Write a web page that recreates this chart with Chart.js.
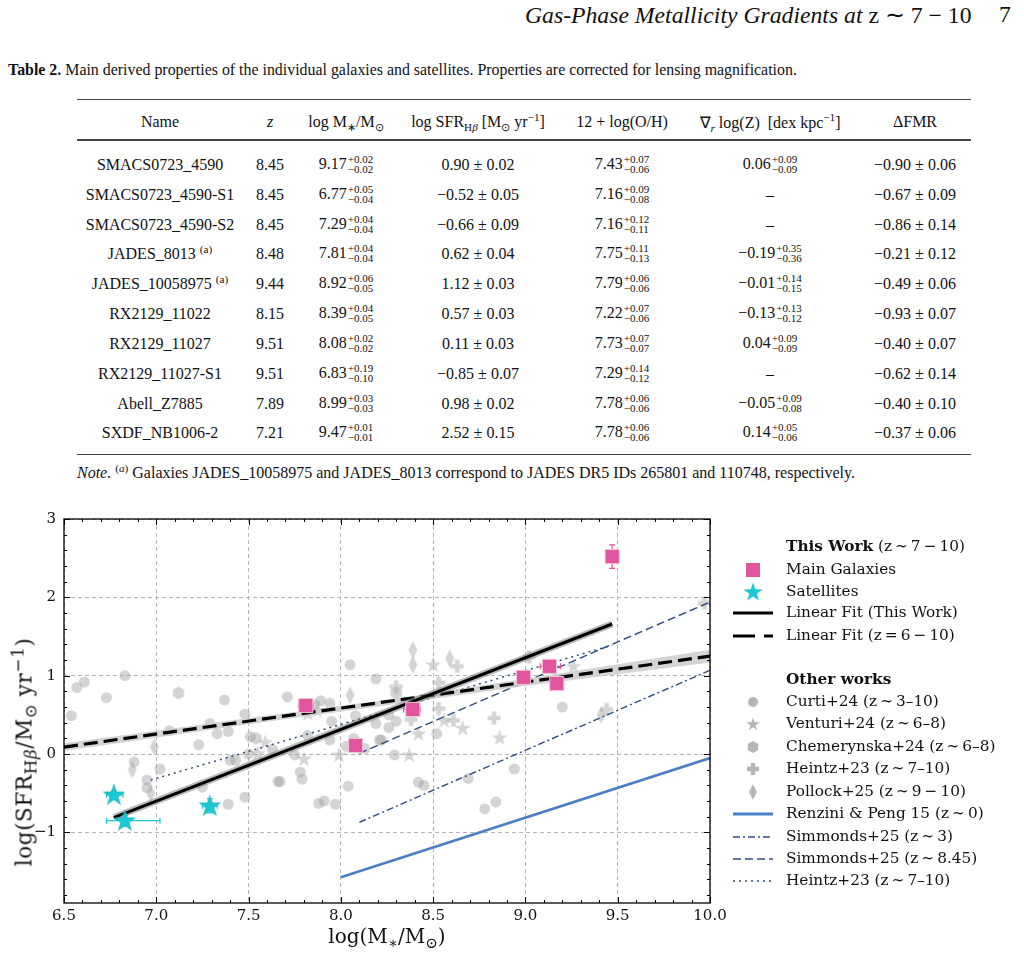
<!DOCTYPE html>
<html><head><meta charset="utf-8">
<script src="https://cdn.jsdelivr.net/npm/chart.js@4.4.1/dist/chart.umd.min.js"></script>
<style>
html,body{margin:0;padding:0;background:#fff;}
body{width:1024px;height:953px;position:relative;overflow:hidden;font-family:"Liberation Serif","Times New Roman",serif;color:#111;}
.abs{position:absolute;white-space:nowrap;}
.runhead{font-size:23.7px;font-style:italic;top:1px;}
.cap{font-size:15.9px;left:8px;top:61px;}
.rule{position:absolute;left:77px;width:894px;background:#444;}
.cell{position:absolute;white-space:nowrap;transform:translate(-50%,-50%);font-size:16px;}
.pm{display:inline-block;vertical-align:middle;font-size:11px;line-height:10px;text-align:left;margin-left:1px;position:relative;top:-1px;}
.pm span{display:block;}
sub,sup{font-size:70%;line-height:0;}
.note{font-size:16px;left:77px;top:464px;}
.leg{position:absolute;left:0;top:0;font-family:"DejaVu Serif",serif;font-size:15.3px;color:#111;}
.lrow{position:absolute;left:733px;height:20px;white-space:nowrap;}
.lrow svg{position:absolute;left:0;top:0;}
.lrow span{position:absolute;left:53px;top:0px;}
.ax{position:absolute;font-family:"DejaVu Serif",serif;font-size:20px;white-space:nowrap;color:#111;}
.ax sub,.ax sup{font-size:75%;}
.ay{font-size:21.5px;letter-spacing:0.6px;}
.ay sub,.ay sup{font-size:78%;}
</style></head>
<body>
<div class="abs runhead" style="left:525px;">Gas-Phase Metallicity Gradients at <span style="font-style:normal">z ∼ 7 − 10</span></div>
<div class="abs runhead" style="left:999px;font-style:normal;">7</div>
<div class="abs cap"><b>Table 2.</b> Main derived properties of the individual galaxies and satellites. Properties are corrected for lensing magnification.</div>
<div class="rule" style="top:99px;height:1px;"></div>
<div class="rule" style="top:139px;height:1.5px;"></div>
<div class="rule" style="top:454px;height:1px;"></div>
<div id="table"></div>
<div class="abs note"><i>Note.</i> <sup>(<i>a</i>)</sup> Galaxies JADES_10058975 and JADES_8013 correspond to JADES DR5 IDs 265801 and 110748, respectively.</div>

<div style="position:absolute;left:0;top:500px;width:1024px;height:453px;">
<canvas id="c" width="1024" height="453"></canvas>
</div>
<div class="ax" style="left:387px;top:936px;transform:translate(-50%,-50%);">log(M<sub>∗</sub>/M<sub>⊙</sub>)</div>
<div class="ax ay" style="left:24px;top:752px;transform:translate(-50%,-50%) rotate(-90deg);">log(SFR<sub>H<i>β</i></sub>/M<sub>⊙</sub> yr<sup>−1</sup>)</div>
<div class="leg" id="legend"></div>

<script>
// ---------------- Table data ----------------
const names = ["SMACS0723_4590","SMACS0723_4590-S1","SMACS0723_4590-S2","JADES_8013","JADES_10058975","RX2129_11022","RX2129_11027","RX2129_11027-S1","Abell_Z7885","SXDF_NB1006-2"];
const noteFlag = [0,0,0,1,1,0,0,0,0,0];
const redshift = ["8.45","8.45","8.45","8.48","9.44","8.15","9.51","9.51","7.89","7.21"];
const logMass = [9.17,6.77,7.29,7.81,8.92,8.39,8.08,6.83,8.99,9.47];
const logMassUp = [0.02,0.05,0.04,0.04,0.06,0.04,0.02,0.19,0.03,0.01];
const logMassLo = [0.02,0.04,0.04,0.04,0.05,0.05,0.02,0.10,0.03,0.01];
const logSFR = [0.90,-0.52,-0.66,0.62,1.12,0.57,0.11,-0.85,0.98,2.52];
const logSFRErr = [0.02,0.05,0.09,0.04,0.03,0.03,0.03,0.07,0.02,0.15];
const metal = [7.43,7.16,7.16,7.75,7.79,7.22,7.73,7.29,7.78,7.78];
const metalUp = [0.07,0.09,0.12,0.11,0.06,0.07,0.07,0.14,0.06,0.06];
const metalLo = [0.06,0.08,0.11,0.13,0.06,0.06,0.07,0.12,0.06,0.06];
const gradient = [0.06,null,null,-0.19,-0.01,-0.13,0.04,null,-0.05,0.14];
const gradientUp = [0.09,null,null,0.35,0.14,0.13,0.09,null,0.09,0.05];
const gradientLo = [0.09,null,null,0.36,0.15,0.12,0.09,null,0.08,0.06];
const deltaFMR = [-0.90,-0.67,-0.86,-0.21,-0.49,-0.93,-0.40,-0.62,-0.40,-0.37];
const deltaFMRErr = [0.06,0.09,0.14,0.12,0.06,0.07,0.07,0.14,0.10,0.06];

// ---------------- Chart: this work (as plotted in the figure) ----------------
const mainMass = [9.17,7.81,9.13,8.39,8.08,8.99,9.47];
const mainMassErrLo = [0.02,0.04,0.05,0.05,0.02,0.03,0.01];
const mainMassErrHi = [0.02,0.04,0.06,0.04,0.02,0.03,0.01];
const mainSFR = [0.90,0.62,1.12,0.57,0.11,0.98,2.52];
const mainSFRErr = [0.02,0.04,0.03,0.03,0.03,0.02,0.15];
const satMass = [6.77,7.29,6.83];
const satMassErrLo = [0.04,0.04,0.10];
const satMassErrHi = [0.05,0.04,0.19];
const satSFR = [-0.52,-0.66,-0.85];
const satSFRErr = [0.05,0.09,0.07];

// ---------------- Other works ----------------
const curtiX = [6.54,6.57,6.61,6.73,6.83,7.37,7.71,8.05,8.19,7.89,7.94,7.48,7.07,7.29,7.33,7.39,7.23,6.88,7.02,6.95,6.95,7.25,7.39,7.48,7.51,7.50,7.40,7.43,7.63,7.66,7.95,8.08,8.19,8.26,8.30,8.52,8.29,8.22,8.13,8.03,7.94,7.82,7.75,7.78,7.79,7.67,8.04,7.88,7.91,7.97,8.42,8.45,9.20,8.94,8.69,8.78,8.84,8.07,8.21,8.26,7.86];
const curtiY = [0.49,0.85,0.92,0.72,1.00,0.69,0.73,1.14,0.96,0.68,0.65,0.51,0.30,0.39,0.26,0.29,0.12,-0.10,-0.19,-0.33,-0.43,-0.42,-0.64,-0.55,0.22,0.00,-0.08,-0.08,0.06,-0.35,0.42,0.49,0.39,0.34,0.42,0.26,-0.01,0.18,0.07,0.10,0.18,0.24,-0.01,-0.23,-0.32,-0.35,-0.41,-0.63,-0.60,-0.64,-0.36,-0.40,0.60,-0.19,-0.31,-0.70,-0.61,0.20,0.18,0.50,0.63];
const venturiX = [7.59,7.55,7.87,7.82,8.50,8.56,8.66,8.42,8.37,7.80,7.99,9.26,8.86];
const venturiY = [0.15,0.01,0.56,0.52,1.14,0.43,0.33,0.26,-0.01,-0.06,-0.01,1.12,0.21];
const chemX = [7.12,8.30,7.54];
const chemY = [0.78,0.78,0.20];
const heintzX = [8.30,8.63,8.53,8.53,8.61,8.83,9.02,9.44,9.97,8.38];
const heintzY = [0.86,1.12,0.91,0.58,0.43,0.46,1.24,0.57,1.93,0.44];
const pollockX = [8.05,6.99,6.87,6.97,8.39,8.39,8.59,9.41];
const pollockY = [0.75,0.09,-0.20,-0.50,1.33,1.14,1.22,0.50];

// ---------------- Relations (end points) ----------------
const fitThisX = [6.77,9.47], fitThisY = [-0.81,1.66];
const fit610X = [6.5,10.0], fit610Y = [0.09,1.25];
const fit610BandX = [6.5,7.5,8.3,9.0,10.0];
const fit610BandUp = [0.14,0.46,0.71,0.96,1.33];
const fit610BandLo = [0.04,0.38,0.64,0.87,1.17];
const renziniX = [8.0,10.0], renziniY = [-1.57,-0.05];
const simm3X = [8.1,10.0], simm3Y = [-0.87,1.07];
const simm845X = [8.1,10.0], simm845Y = [0.01,1.94];
const heintzLineX = [6.97,9.47], heintzLineY = [-0.33,1.39];

// ---------------- Axis ticks ----------------
const xTickValues = [6.5,7.0,7.5,8.0,8.5,9.0,9.5,10.0];
const yTickValues = [-1,0,1,2,3];

// ---------------- Build table ----------------
const minus = s => s.replace('-', '−');
const f2 = v => minus(v.toFixed(2));
const pm = (v,u,l) => `${f2(v)}<span class="pm"><span>+${u.toFixed(2)}</span><span>−${l.toFixed(2)}</span></span>`;
const cols = [160,270,346,478,622,770,915];
const tbl = document.getElementById('table');
function cell(x,y,html){const d=document.createElement('div');d.className='cell';d.style.left=x+'px';d.style.top=y+'px';d.innerHTML=html;tbl.appendChild(d);}
const headers = ['Name','<i>z</i>','log M<sub>∗</sub>/M<sub>⊙</sub>','log SFR<sub>H<i>β</i></sub> [M<sub>⊙</sub> yr<sup>−1</sup>]','12 + log(O/H)','∇<sub><i>r</i></sub> log(Z) &nbsp;[dex kpc<sup>−1</sup>]','ΔFMR'];
headers.forEach((h,i)=>cell(cols[i],122,h));
const rowY = [165,195,225,254,284,314,344,374,404,433];
names.forEach((n,i)=>{
  const y=rowY[i];
  cell(cols[0],y,n+(noteFlag[i]?' <sup>(a)</sup>':''));
  cell(cols[1],y,redshift[i]);
  cell(cols[2],y,pm(logMass[i],logMassUp[i],logMassLo[i]));
  cell(cols[3],y,`${f2(logSFR[i])} ± ${logSFRErr[i].toFixed(2)}`);
  cell(cols[4],y,pm(metal[i],metalUp[i],metalLo[i]));
  cell(cols[5],y,gradient[i]===null?'–':pm(gradient[i],gradientUp[i],gradientLo[i]));
  cell(cols[6],y,`${f2(deltaFMR[i])} ± ${deltaFMRErr[i].toFixed(2)}`);
});

// ---------------- Marker images ----------------
function mk(w,h,draw){const c=document.createElement('canvas');c.width=w;c.height=h;const g=c.getContext('2d');draw(g,w,h);return c;}
function starPath(g,cx,cy,R,r){g.beginPath();for(let k=0;k<10;k++){const a=-Math.PI/2+k*Math.PI/5;const rr=k%2?r:R;g.lineTo(cx+rr*Math.cos(a),cy+rr*Math.sin(a));}g.closePath();}
const GRAY='rgba(160,160,160,0.45)';
const satImg = mk(24,24,(g)=>{starPath(g,12,12.5,11,4.3);g.fillStyle='#1bc8d4';g.fill();g.strokeStyle='#12aab5';g.lineWidth=0.6;g.stroke();});
const starGray = mk(18,18,(g)=>{starPath(g,9,9.5,8.5,3.3);g.fillStyle=GRAY;g.fill();});
const hexGray = mk(14,14,(g)=>{g.beginPath();for(let k=0;k<6;k++){const a=Math.PI/6+k*Math.PI/3;g.lineTo(7+6.5*Math.cos(a),7+6.5*Math.sin(a));}g.closePath();g.fillStyle=GRAY;g.fill();});
const crossGray = mk(14,14,(g)=>{g.fillStyle=GRAY;g.beginPath();g.moveTo(4.7,0.5);g.lineTo(9.3,0.5);g.lineTo(9.3,4.7);g.lineTo(13.5,4.7);g.lineTo(13.5,9.3);g.lineTo(9.3,9.3);g.lineTo(9.3,13.5);g.lineTo(4.7,13.5);g.lineTo(4.7,9.3);g.lineTo(0.5,9.3);g.lineTo(0.5,4.7);g.lineTo(4.7,4.7);g.closePath();g.fill();});
const diamGray = mk(10,18,(g)=>{g.beginPath();g.moveTo(5,0);g.lineTo(9.5,9);g.lineTo(5,18);g.lineTo(0.5,9);g.closePath();g.fillStyle=GRAY;g.fill();});

const pts = (X,Y) => X.map((x,i)=>({x:x,y:Y[i]}));
const NAVY='#2d4d7c';
const PINK='#e0559e', CYAN='#1bc8d4';
const lineDs = (X,Y,color,w,dash,order)=>({data:pts(X,Y),showLine:true,borderColor:color,borderWidth:w,borderDash:dash,pointRadius:0,order:order,fill:false});

const datasets = [
  {label:'Main Galaxies',data:pts(mainMass,mainSFR),pointStyle:'rect',pointRadius:10,backgroundColor:PINK,borderColor:'#f7c4dc',borderWidth:1,order:0},
  {label:'Satellites',data:pts(satMass,satSFR),pointStyle:satImg,order:1},
  lineDs(fitThisX,fitThisY,'#000',3,[],2),
  lineDs(fitThisX,fitThisY,'rgba(130,130,130,0.55)',7,[],3),
  lineDs(fit610X,fit610Y,'#000',3.2,[14,6],4),
  {data:pts(fit610BandX,fit610BandUp),showLine:true,borderWidth:0,borderColor:'rgba(0,0,0,0)',pointRadius:0,fill:'+1',backgroundColor:'rgba(205,205,205,0.85)',order:5},
  {data:pts(fit610BandX,fit610BandLo),showLine:true,borderWidth:0,borderColor:'rgba(0,0,0,0)',pointRadius:0,fill:false,order:5},
  lineDs(renziniX,renziniY,'#4a7fc6',2.6,[],6),
  lineDs(simm3X,simm3Y,NAVY,1.4,[7,3,2,3],6),
  lineDs(simm845X,simm845Y,NAVY,1.4,[8,4],6),
  lineDs(heintzLineX,heintzLineY,NAVY,1.5,[2,4],6),
  {data:pts(curtiX,curtiY),pointStyle:'circle',pointRadius:5.5,backgroundColor:GRAY,borderWidth:0,order:10},
  {data:pts(venturiX,venturiY),pointStyle:starGray,order:10},
  {data:pts(chemX,chemY),pointStyle:hexGray,order:10},
  {data:pts(heintzX,heintzY),pointStyle:crossGray,order:10},
  {data:pts(pollockX,pollockY),pointStyle:diamGray,order:10},
];

// error bars
const errSets = {
  0:{x:mainMass,y:mainSFR,xl:mainMassErrLo,xh:mainMassErrHi,ye:mainSFRErr,color:PINK},
  1:{x:satMass,y:satSFR,xl:satMassErrLo,xh:satMassErrHi,ye:satSFRErr,color:CYAN}
};
const errPlugin = {id:'err',beforeDatasetDraw(chart,args){
  const e=errSets[args.index]; if(!e) return;
  const xs=chart.scales.x, ys=chart.scales.y, g=chart.ctx;
  g.save();g.strokeStyle=e.color;g.lineWidth=1.2;
  e.x.forEach((mx,i)=>{
    const px=xs.getPixelForValue(mx), py=ys.getPixelForValue(e.y[i]);
    const xl=xs.getPixelForValue(mx-e.xl[i]), xh=xs.getPixelForValue(mx+e.xh[i]);
    const yl=ys.getPixelForValue(e.y[i]-e.ye[i]), yh=ys.getPixelForValue(e.y[i]+e.ye[i]);
    g.beginPath();
    g.moveTo(xl,py);g.lineTo(xh,py);g.moveTo(xl,py-3);g.lineTo(xl,py+3);g.moveTo(xh,py-3);g.lineTo(xh,py+3);
    g.moveTo(px,yl);g.lineTo(px,yh);g.moveTo(px-3,yl);g.lineTo(px+3,yl);g.moveTo(px-3,yh);g.lineTo(px+3,yh);
    g.stroke();
  });
  g.restore();
}};

// frame + inward ticks
const frame = {id:'frame',afterDraw(chart){
  const a=chart.chartArea, g=chart.ctx, xs=chart.scales.x, ys=chart.scales.y;
  g.save();g.strokeStyle='#000';g.lineWidth=1.3;
  g.strokeRect(a.left,a.top,a.right-a.left,a.bottom-a.top);
  g.lineWidth=1;g.beginPath();
  for(let k=0;k<=35;k++){const v=6.5+k*0.1;const px=Math.round(xs.getPixelForValue(v))+0.5;const L=(k%5===0)?6:3;
    g.moveTo(px,a.bottom);g.lineTo(px,a.bottom-L);g.moveTo(px,a.top);g.lineTo(px,a.top+L);}
  for(let k=0;k<=24;k++){const v=-1.8+k*0.2;const py=Math.round(ys.getPixelForValue(v))+0.5;const L=(Math.abs(v-Math.round(v))<1e-6)?6:3;
    g.moveTo(a.left,py);g.lineTo(a.left+L,py);g.moveTo(a.right,py);g.lineTo(a.right-L,py);}
  g.stroke();g.restore();
}};

const tickFont={family:'"DejaVu Serif", serif',size:15};
new Chart(document.getElementById('c'),{
  type:'scatter',
  data:{datasets},
  options:{
    responsive:false,animation:false,devicePixelRatio:1,
    layout:{padding:{top:19,right:314,left:0,bottom:0}},
    plugins:{legend:{display:false},tooltip:{enabled:false}},
    scales:{
      x:{type:'linear',min:6.5,max:10.0,
        afterBuildTicks(s){s.ticks=xTickValues.map(v=>({value:v}));},
        afterFit(s){s.height=50;},
        ticks:{font:tickFont,color:'#111',padding:4,maxRotation:0,callback:v=>v.toFixed(1)},
        grid:{color:'#b5b5b5',lineWidth:1,drawTicks:false},
        border:{display:false,dash:[4,3]}},
      y:{type:'linear',min:-1.9,max:3,
        afterBuildTicks(s){s.ticks=yTickValues.map(v=>({value:v}));},
        afterFit(s){s.width=64;},
        ticks:{font:tickFont,color:'#111',padding:8,callback:v=>minus(String(v))},
        grid:{color:'#b5b5b5',lineWidth:1,drawTicks:false},
        border:{display:false,dash:[4,3]}}
    }
  },
  plugins:[errPlugin,frame]
});

// ---------------- Legend ----------------
const G2='rgba(150,150,150,0.7)';
const starSvg=(cx,cy,R,r,fill)=>{let p=[];for(let k=0;k<10;k++){const a=-Math.PI/2+k*Math.PI/5;const rr=k%2?r:R;p.push((cx+rr*Math.cos(a)).toFixed(2)+','+(cy+rr*Math.sin(a)).toFixed(2));}return `<polygon points="${p.join(' ')}" fill="${fill}"/>`;};
const hline=(color,w,dash)=>`<line x1="0" y1="10" x2="40" y2="10" stroke="${color}" stroke-width="${w}" ${dash?`stroke-dasharray="${dash}"`:''}/>`;
const legendItems=[
  {y:547,label:'<b>This Work</b> (z\u2009∼\u20097\u2009−\u200910)',icon:''},
  {y:570,label:'Main Galaxies',icon:`<rect x="13" y="3" width="14" height="14" fill="${PINK}"/>`},
  {y:592,label:'Satellites',icon:starSvg(20,10.5,10,3.9,CYAN)},
  {y:613,label:'Linear Fit (This Work)',icon:hline('#000',3)},
  {y:636,label:'Linear Fit (z\u2009=\u20096\u2009−\u200910)',icon:hline('#000',3,'22 9')},
  {y:680,label:'<b>Other works</b>',icon:''},
  {y:702,label:'Curti+24 (z\u2009∼\u20093–10)',icon:`<circle cx="20" cy="10" r="5" fill="${G2}"/>`},
  {y:724,label:'Venturi+24 (z\u2009∼\u20096–8)',icon:starSvg(20,10.5,7,2.8,G2)},
  {y:747,label:'Chemerynska+24 (z\u2009∼\u20096–8)',icon:`<polygon points="20,4 25.2,7 25.2,13 20,16 14.8,13 14.8,7" fill="${G2}"/>`},
  {y:769,label:'Heintz+23 (z\u2009∼\u20097–10)',icon:`<path d="M17.8,4 h4.4 v3.8 h3.8 v4.4 h-3.8 v3.8 h-4.4 v-3.8 h-3.8 v-4.4 h3.8 z" fill="${G2}"/>`},
  {y:792,label:'Pollock+25 (z\u2009∼\u20099\u2009−\u200910)',icon:`<polygon points="20,2 24,10 20,18 16,10" fill="${G2}"/>`},
  {y:814,label:'Renzini &amp; Peng 15 (z\u2009∼\u20090)',icon:hline('#4a7fc6',3)},
  {y:837,label:'Simmonds+25 (z\u2009∼\u20093)',icon:hline(NAVY,1.4,'7 3 2 3')},
  {y:859,label:'Simmonds+25 (z\u2009∼\u20098.45)',icon:hline(NAVY,1.4,'8 4')},
  {y:881,label:'Heintz+23 (z\u2009∼\u20097–10)',icon:hline(NAVY,1.5,'2 4')},
];
const leg=document.getElementById('legend');
legendItems.forEach(it=>{const d=document.createElement('div');d.className='lrow';d.style.top=(it.y-10)+'px';
  d.innerHTML=`<svg width="42" height="20">${it.icon}</svg><span>${it.label}</span>`;leg.appendChild(d);});
</script>
</body></html>
